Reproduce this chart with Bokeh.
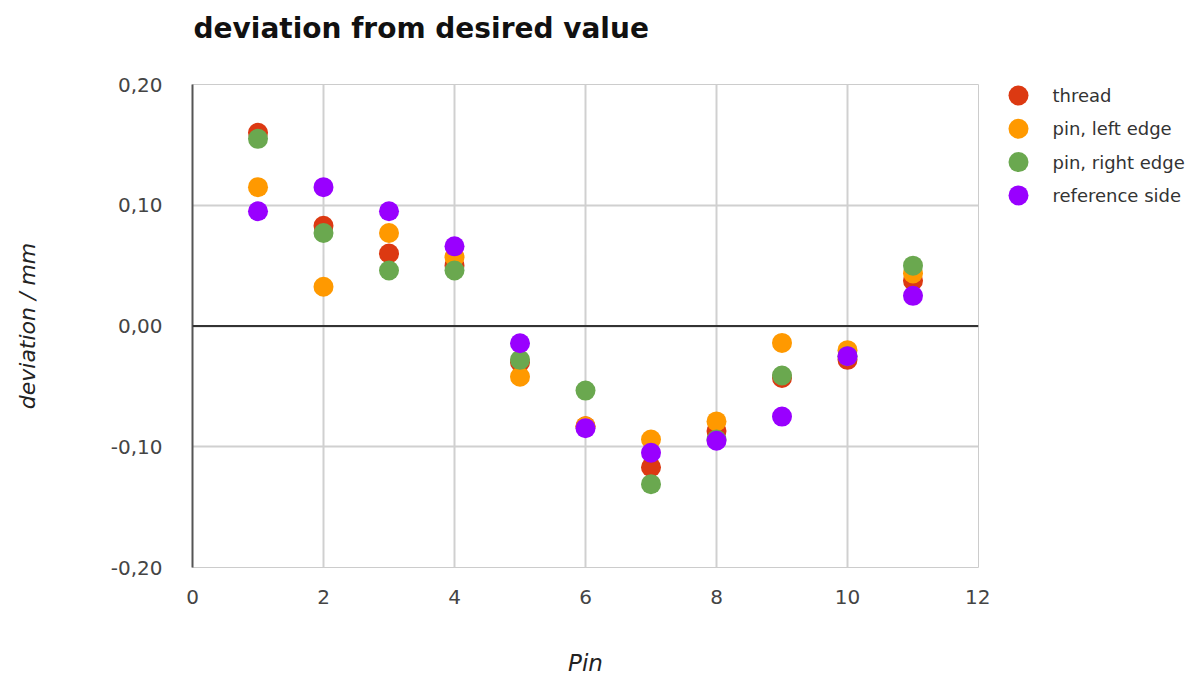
from bokeh.plotting import figure
from bokeh.layouts import row, column
from bokeh.models import ColumnDataSource, Span, FixedTicker, CustomJSTickFormatter, Range1d
from bokeh.core.properties import value
from bokeh.embed import file_html
from bokeh.resources import INLINE

pins = [1, 2, 3, 4, 5, 6, 7, 8, 9, 10, 11]
thread = [0.160, 0.083, 0.060, 0.050, -0.030, -0.083, -0.117, -0.087, -0.043, -0.028, 0.0375]
pin_left = [0.115, 0.0325, 0.077, 0.057, -0.042, -0.083, -0.094, -0.079, -0.014, -0.020, 0.0435]
pin_right = [0.155, 0.077, 0.046, 0.046, -0.028, -0.0535, -0.131, -0.094, -0.041, -0.025, 0.050]
reference = [0.095, 0.115, 0.095, 0.066, -0.0143, -0.0846, -0.105, -0.095, -0.075, -0.025, 0.025]

series_names = ["thread", "pin, left edge", "pin, right edge", "reference side"]
series_values = [thread, pin_left, pin_right, reference]
colors = ["#dc3912", "#ff9900", "#6aa84f", "#9900ff"]

x_ticks = [0, 2, 4, 6, 8, 10, 12]
y_ticks = [-0.2, -0.1, 0.0, 0.1, 0.2]

title_text = "deviation from desired value"
FONT = "DejaVu Sans"

# ---- title strip ----
TH = 60
tf = figure(width=1190, height=TH, output_backend="svg", toolbar_location=None,
            x_range=Range1d(192, 1190), y_range=Range1d(TH, 0),
            x_axis_type=None, y_axis_type=None,
            min_border_left=192, min_border_right=0, min_border_top=0, min_border_bottom=0)
tf.grid.visible = False
tf.outline_line_color = None
tf.text(x=[193], y=[28], text=[title_text], text_font=value(FONT), text_font_size="28px",
        text_font_style="bold", text_color="#111111", text_baseline="middle", text_align="left")

# ---- main plot ----
p = figure(width=990, height=678 - TH, output_backend="svg", toolbar_location=None,
           x_range=Range1d(0, 12), y_range=Range1d(-0.2, 0.2),
           min_border_left=192, min_border_right=12, min_border_top=84 - TH, min_border_bottom=111)

p.outline_line_color = "#cccccc"
p.outline_line_width = 1

p.xaxis.ticker = FixedTicker(ticks=x_ticks)
p.yaxis.ticker = FixedTicker(ticks=y_ticks)
p.yaxis.formatter = CustomJSTickFormatter(code="return tick.toFixed(2).replace('.', ',');")
for ax in (p.xaxis[0], p.yaxis[0]):
    ax.major_label_text_font = FONT
    ax.major_label_text_font_size = "20px"
    ax.major_label_text_color = "#444444"
    ax.major_tick_line_color = None
    ax.minor_tick_line_color = None
    ax.axis_label_text_font = FONT
    ax.axis_label_text_font_style = "italic"
    ax.axis_label_text_color = "#222222"
p.xaxis.axis_label_text_font_size = "23px"
p.yaxis.axis_label_text_font_size = "22px"
p.xaxis.axis_line_color = None
p.yaxis.axis_line_color = "#555555"
p.yaxis.axis_line_width = 2
p.xaxis.axis_label = "Pin"
p.yaxis.axis_label = "deviation / mm"
p.xaxis.major_label_standoff = 16
p.yaxis.major_label_standoff = 24
p.xaxis.axis_label_standoff = 43
p.yaxis.axis_label_standoff = 68

p.xgrid.ticker = FixedTicker(ticks=x_ticks)
p.ygrid.ticker = FixedTicker(ticks=y_ticks)
p.grid.grid_line_color = "#d0d0d0"
p.grid.grid_line_width = 2

p.add_layout(Span(location=0, dimension="width", line_color="#333333", line_width=2))

for vals, c in zip(series_values, colors):
    src = ColumnDataSource(dict(x=pins, y=vals))
    p.scatter("x", "y", source=src, size=20, fill_color=c, line_color=None)

# ---- legend panel (page-pixel coordinates) ----
lg = figure(width=200, height=678 - TH, output_backend="svg", toolbar_location=None,
            x_range=Range1d(990, 1190), y_range=Range1d(567, 84),
            x_axis_type=None, y_axis_type=None,
            min_border_left=0, min_border_right=0, min_border_top=84 - TH, min_border_bottom=111)
lg.grid.visible = False
lg.outline_line_color = None
row_y = [95 + 33.3 * i for i in range(len(series_names))]
lg.scatter(x=[1018] * len(series_names), y=row_y, size=20, fill_color=colors, line_color=None)
lg.text(x=[1052] * len(series_names), y=row_y, text=series_names,
        text_font=value(FONT), text_font_size="18px", text_color="#333333",
        text_baseline="middle", text_align="left")

layout = column(tf, row(p, lg, spacing=0), spacing=0)
open("out.html", "w").write(file_html(layout, INLINE))
